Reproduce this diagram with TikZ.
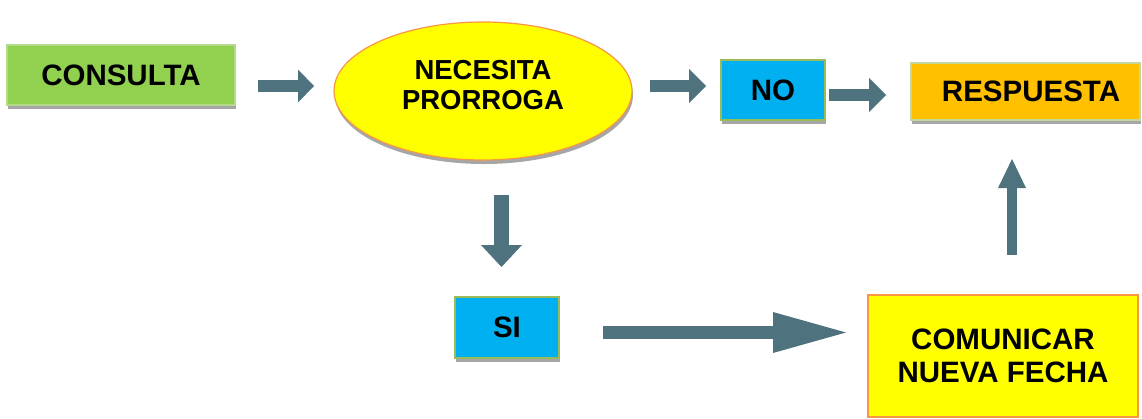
\documentclass[tikz,border=0pt]{standalone}
\usepackage{fontspec}
\setmainfont{Liberation Sans}
\usetikzlibrary{arrows.meta,shapes.geometric,shadows}
\definecolor{cgreen}{HTML}{92D050}
\definecolor{cgreenb}{HTML}{B3D98A}
\definecolor{cblue}{HTML}{00B0F0}
\definecolor{cblueb}{HTML}{9BBB59}
\definecolor{corange}{HTML}{FFC000}
\definecolor{corangeb}{HTML}{C3D69B}
\definecolor{cyellow}{HTML}{FFFF00}
\definecolor{cyellowb}{HTML}{F79646}
\definecolor{carrow}{HTML}{4E737F}
\definecolor{cshadow}{HTML}{A6A6A6}
\tikzset{
  shad/.style={drop shadow={shadow xshift=1pt,shadow yshift=-4pt,fill=cshadow,opacity=1}},
  boxnode/.style={rectangle,inner sep=0pt,line width=1.5pt,font=\bfseries\fontsize{29.5}{33}\selectfont,align=center},
  barrow/.style args={#1/#2/#3}{draw=carrow,line width=#1,line cap=butt,-{Triangle[length=#2,width=#3,line width=0pt]}}
}
\begin{document}
\begin{tikzpicture}[x=1pt,y=-1pt]
\useasboundingbox (0,0) rectangle (1142,418);
\node[boxnode,shad,fill=cgreen,draw=cgreenb,minimum width=228pt,minimum height=60pt] (consulta) at (121,75) {CONSULTA};
\node[ellipse,shad,fill=cyellow,draw=cyellowb,line width=1.2pt,minimum width=298pt,minimum height=138pt,inner sep=0pt,
  label={[font=\bfseries\fontsize{27.5}{30}\selectfont,align=center,yshift=6pt]center:NECESITA\\PRORROGA}] (nec) at (483,91) {};
\node[boxnode,shad,fill=cblue,draw=cblueb,minimum width=104pt,minimum height=60pt] (no) at (773,90) {NO};
\node[boxnode,shad,fill=corange,draw=corangeb,minimum width=229pt,minimum height=57pt,text width=229pt] (resp) at (1025.5,91.5) {\hspace*{11pt}RESPUESTA};
\node[boxnode,shad,fill=cblue,draw=cblueb,minimum width=104pt,minimum height=61pt] (si) at (507,327.5) {SI};
\node[boxnode,fill=cyellow,draw=cyellowb,minimum width=270pt,minimum height=122pt] (com) at (1003,356) {COMUNICAR\\NUEVA FECHA};
% arrow ends
\coordinate (a1s) at (258,86);  \coordinate (a1e) at (314,86);
\coordinate (a2s) at (650,86);  \coordinate (a2e) at (706,86);
\coordinate (a3s) at (829,95);  \coordinate (a3e) at (886,95);
\coordinate (a4s) at (501.5,195); \coordinate (a4e) at (501.5,267);
\coordinate (a5s) at (603,332.5); \coordinate (a5e) at (846,332.5);
\coordinate (a6s) at (1012,255); \coordinate (a6e) at (1012,159);
\draw[barrow=12pt/16pt/33pt] (a1s) -- (a1e);
\draw[barrow=12pt/17pt/34pt] (a2s) -- (a2e);
\draw[barrow=12pt/17pt/34pt] (a3s) -- (a3e);
\draw[barrow=15pt/22pt/41pt] (a4s) -- (a4e);
\draw[barrow=13pt/73pt/41pt] (a5s) -- (a5e);
\draw[barrow=10pt/29pt/28pt] (a6s) -- (a6e);
\end{tikzpicture}
\end{document}
